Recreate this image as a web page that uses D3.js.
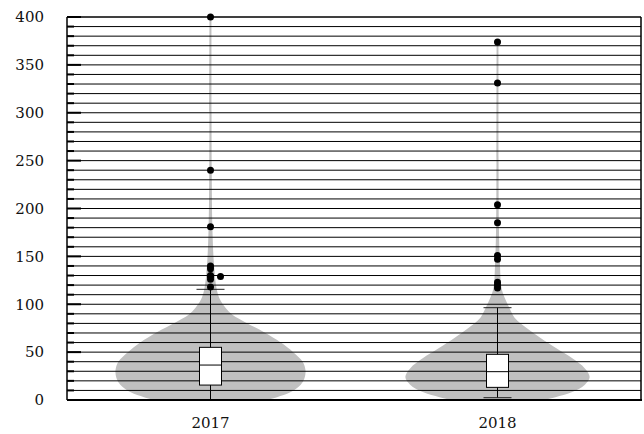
<!DOCTYPE html>
<html>
<head>
<meta charset="utf-8">
<script src="https://cdn.jsdelivr.net/npm/d3@7"></script>
<style>
  body { margin: 0; background: #fff; }
  svg text { font-family: "DejaVu Serif", serif; font-size: 15px; fill: #111; }
</style>
</head>
<body>
<svg id="chart" width="644" height="434"></svg>
<script>
var categories = ['2017', '2018'];

// box stats per category
var boxLow = [0, 2.4];
var boxQ1 = [15.6, 13.2];
var boxMedian = [36.5, 29.6];
var boxQ3 = [55, 47.7];
var boxHigh = [115.6, 96.4];

var outliers2017 = [400, 240, 181, 140, 137, 130, 129, 129, 126, 118];
var outliers2018 = [374, 331, 204, 185, 151, 147, 123, 120, 117];

// violin profile: value levels and relative density
var levels2017 = [0, 3, 8, 16, 23, 31, 40, 50, 60, 71, 81, 89, 96, 106, 117, 141, 180, 240, 300, 400];
var density2017 = [0.58, 0.70, 0.84, 0.95, 0.99, 1.0, 0.97, 0.87, 0.74, 0.56, 0.37, 0.23, 0.16, 0.095, 0.063, 0.037, 0.02, 0.013, 0.011, 0.01];
var levels2018 = [0, 3, 8, 16, 24, 33, 44, 54, 65, 75, 86, 96, 106, 117, 141, 180, 250, 374];
var density2018 = [0.47, 0.61, 0.78, 0.92, 0.97, 0.92, 0.78, 0.62, 0.45, 0.31, 0.18, 0.126, 0.079, 0.042, 0.026, 0.015, 0.011, 0.01];

var yTicks = d3.range(0, 401, 50);

var mLeft = 67, mRight = 641, mTop = 17, mBottom = 400;

var svg = d3.select('#chart');

var x = d3.scaleBand().domain(categories).range([mLeft, mRight]);
var y = d3.scaleLinear().domain([0, 400]).range([mBottom, mTop]);
var w = d3.scaleLinear().domain([0, 1]).range([0, 95]);

var violins = [
  {cat: '2017', pts: levels2017.map(function(v, i) { return {v: v, d: density2017[i]}; })},
  {cat: '2018', pts: levels2018.map(function(v, i) { return {v: v, d: density2018[i]}; })}
];

function cx(cat) { return x(cat) + x.bandwidth() / 2; }

var g = svg.append('g');

g.selectAll('path.violin')
  .data(violins)
  .enter()
    .append('path')
    .classed('violin', true)
    .attr('fill', '#c0c0c0')
    .attr('d', function(d) {
      var c = cx(d.cat);
      return d3.area()
        .curve(d3.curveCatmullRom)
        .y(function(p) { return y(p.v); })
        .x0(function(p) { return c - w(p.d); })
        .x1(function(p) { return c + w(p.d); })(d.pts);
    });

// grid lines every 10
g.selectAll('line.grid')
  .data(d3.range(0, 401, 10))
  .enter()
    .append('line')
    .attr('x1', mLeft).attr('x2', mRight)
    .attr('y1', function(d) { return y(d); })
    .attr('y2', function(d) { return y(d); })
    .attr('stroke', '#000')
    .attr('stroke-width', 1);

// inner ticks
g.selectAll('line.tick')
  .data(d3.range(0, 401, 10))
  .enter()
    .append('line')
    .attr('x1', mLeft)
    .attr('x2', function(d) { return mLeft + (d % 50 === 0 ? 14 : 7); })
    .attr('y1', function(d) { return y(d); })
    .attr('y2', function(d) { return y(d); })
    .attr('stroke', '#000')
    .attr('stroke-width', 2);

g.selectAll('text.ylab')
  .data(yTicks)
  .enter()
    .append('text')
    .attr('x', 44)
    .attr('y', function(d) { return y(d); })
    .attr('dy', '0.35em')
    .attr('text-anchor', 'end')
    .text(function(d) { return d; });

g.selectAll('text.xlab')
  .data(categories)
  .enter()
    .append('text')
    .attr('x', cx)
    .attr('y', 428)
    .attr('text-anchor', 'middle')
    .text(function(d) { return d; });

// whiskers, caps and boxes
categories.forEach(function(cat, i) {
  var c = cx(cat);
  g.append('line')
    .attr('x1', c).attr('x2', c)
    .attr('y1', y(boxLow[i])).attr('y2', y(boxHigh[i]))
    .attr('stroke', '#000');
  [boxLow[i], boxHigh[i]].forEach(function(v) {
    g.append('line')
      .attr('x1', c - 14).attr('x2', c + 14)
      .attr('y1', y(v)).attr('y2', y(v))
      .attr('stroke', '#222');
  });
  g.append('rect')
    .attr('x', c - 11)
    .attr('width', 22)
    .attr('y', y(boxQ3[i]))
    .attr('height', y(boxQ1[i]) - y(boxQ3[i]))
    .attr('fill', '#fff')
    .attr('stroke', '#000');
  g.append('line')
    .attr('x1', c - 11).attr('x2', c + 11)
    .attr('y1', y(boxMedian[i])).attr('y2', y(boxMedian[i]))
    .attr('stroke', '#000');
});

// outlier dots, duplicates dodged sideways
[outliers2017, outliers2018].forEach(function(vals, i) {
  var c = cx(categories[i]);
  var seen = {};
  g.selectAll(null)
    .data(vals)
    .enter()
      .append('circle')
      .attr('r', 3.5)
      .attr('cx', function(v) {
        seen[v] = (seen[v] || 0) + 1;
        return c + (seen[v] - 1) * 10;
      })
      .attr('cy', function(v) { return y(v); })
      .attr('fill', '#000');
});

// frame
g.append('line').attr('x1', mLeft).attr('x2', mRight).attr('y1', mTop).attr('y2', mTop).attr('stroke', '#000');
g.append('line').attr('x1', mRight).attr('x2', mRight).attr('y1', mTop).attr('y2', mBottom).attr('stroke', '#000').attr('stroke-width', 1.5);
g.append('line').attr('x1', mLeft).attr('x2', mLeft).attr('y1', mTop).attr('y2', mBottom).attr('stroke', '#000').attr('stroke-width', 1.5);
g.append('line').attr('x1', mLeft).attr('x2', mRight + 1).attr('y1', mBottom).attr('y2', mBottom).attr('stroke', '#000').attr('stroke-width', 2);
</script>
</body>
</html>
